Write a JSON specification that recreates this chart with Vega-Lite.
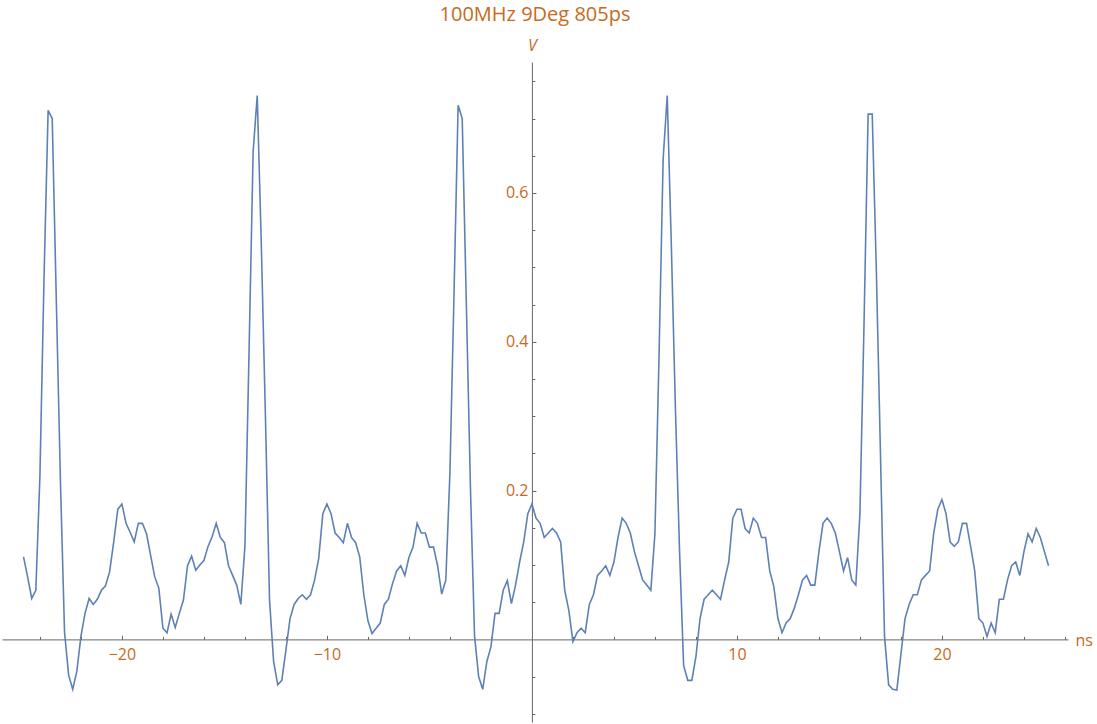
{
  "$schema": "https://vega.github.io/schema/vega-lite/v6.json",
  "width": 1066,
  "height": 660,
  "autosize": {"type": "none"},
  "padding": {"left": 2, "top": 62, "right": 29, "bottom": 2},
  "background": "#ffffff",
  "title": {
    "text": "100MHz 9Deg 805ps",
    "anchor": "middle",
    "font": "Open Sans",
    "fontSize": 20,
    "fontWeight": "normal",
    "color": "#c76a22",
    "offset": 12
  },
  "data": {
    "values": [
      {"t": -24.8, "v": 0.111}, {"t": -24.6, "v": 0.084}, {"t": -24.4, "v": 0.055}, {"t": -24.2, "v": 0.066},
      {"t": -24.0, "v": 0.22}, {"t": -23.8, "v": 0.486}, {"t": -23.6, "v": 0.711}, {"t": -23.4, "v": 0.7},
      {"t": -23.2, "v": 0.455}, {"t": -23.0, "v": 0.213}, {"t": -22.8, "v": 0.01}, {"t": -22.6, "v": -0.048},
      {"t": -22.4, "v": -0.067}, {"t": -22.2, "v": -0.043}, {"t": -22.0, "v": 0.004}, {"t": -21.8, "v": 0.035},
      {"t": -21.6, "v": 0.055}, {"t": -21.4, "v": 0.047}, {"t": -21.2, "v": 0.054}, {"t": -21.0, "v": 0.066},
      {"t": -20.8, "v": 0.072}, {"t": -20.6, "v": 0.091}, {"t": -20.4, "v": 0.131}, {"t": -20.2, "v": 0.175},
      {"t": -20.0, "v": 0.182}, {"t": -19.8, "v": 0.156}, {"t": -19.6, "v": 0.144}, {"t": -19.4, "v": 0.131},
      {"t": -19.2, "v": 0.156}, {"t": -19.0, "v": 0.156}, {"t": -18.8, "v": 0.142}, {"t": -18.6, "v": 0.113},
      {"t": -18.4, "v": 0.084}, {"t": -18.2, "v": 0.069}, {"t": -18.0, "v": 0.015}, {"t": -17.8, "v": 0.009},
      {"t": -17.6, "v": 0.034}, {"t": -17.4, "v": 0.016}, {"t": -17.2, "v": 0.035}, {"t": -17.0, "v": 0.053},
      {"t": -16.8, "v": 0.099}, {"t": -16.6, "v": 0.112}, {"t": -16.4, "v": 0.093}, {"t": -16.2, "v": 0.1},
      {"t": -16.0, "v": 0.106}, {"t": -15.8, "v": 0.125}, {"t": -15.6, "v": 0.138}, {"t": -15.4, "v": 0.156},
      {"t": -15.2, "v": 0.137}, {"t": -15.0, "v": 0.13}, {"t": -14.8, "v": 0.099}, {"t": -14.6, "v": 0.086},
      {"t": -14.4, "v": 0.073}, {"t": -14.2, "v": 0.047}, {"t": -14.0, "v": 0.125}, {"t": -13.8, "v": 0.385},
      {"t": -13.6, "v": 0.655}, {"t": -13.4, "v": 0.731}, {"t": -13.2, "v": 0.53}, {"t": -13.0, "v": 0.3},
      {"t": -12.8, "v": 0.053}, {"t": -12.6, "v": -0.03}, {"t": -12.4, "v": -0.061}, {"t": -12.2, "v": -0.055},
      {"t": -12.0, "v": -0.014}, {"t": -11.8, "v": 0.028}, {"t": -11.6, "v": 0.047}, {"t": -11.4, "v": 0.055},
      {"t": -11.2, "v": 0.06}, {"t": -11.0, "v": 0.054}, {"t": -10.8, "v": 0.06}, {"t": -10.6, "v": 0.08},
      {"t": -10.4, "v": 0.109}, {"t": -10.2, "v": 0.169}, {"t": -10.0, "v": 0.182}, {"t": -9.8, "v": 0.169},
      {"t": -9.6, "v": 0.143}, {"t": -9.4, "v": 0.137}, {"t": -9.2, "v": 0.13}, {"t": -9.0, "v": 0.156},
      {"t": -8.8, "v": 0.137}, {"t": -8.6, "v": 0.13}, {"t": -8.4, "v": 0.111}, {"t": -8.2, "v": 0.06},
      {"t": -8.0, "v": 0.025}, {"t": -7.8, "v": 0.008}, {"t": -7.6, "v": 0.015}, {"t": -7.4, "v": 0.022},
      {"t": -7.2, "v": 0.047}, {"t": -7.0, "v": 0.054}, {"t": -6.8, "v": 0.075}, {"t": -6.6, "v": 0.092},
      {"t": -6.4, "v": 0.099}, {"t": -6.2, "v": 0.086}, {"t": -6.0, "v": 0.11}, {"t": -5.8, "v": 0.124},
      {"t": -5.6, "v": 0.156}, {"t": -5.4, "v": 0.143}, {"t": -5.2, "v": 0.143}, {"t": -5.0, "v": 0.124},
      {"t": -4.8, "v": 0.124}, {"t": -4.6, "v": 0.099}, {"t": -4.4, "v": 0.061}, {"t": -4.2, "v": 0.08},
      {"t": -4.0, "v": 0.224}, {"t": -3.8, "v": 0.465}, {"t": -3.6, "v": 0.718}, {"t": -3.4, "v": 0.7},
      {"t": -3.2, "v": 0.452}, {"t": -3.0, "v": 0.205}, {"t": -2.8, "v": 0.005}, {"t": -2.6, "v": -0.05},
      {"t": -2.4, "v": -0.067}, {"t": -2.2, "v": -0.03}, {"t": -2.0, "v": -0.01}, {"t": -1.8, "v": 0.035},
      {"t": -1.6, "v": 0.035}, {"t": -1.4, "v": 0.066}, {"t": -1.2, "v": 0.079}, {"t": -1.0, "v": 0.048},
      {"t": -0.8, "v": 0.073}, {"t": -0.6, "v": 0.104}, {"t": -0.4, "v": 0.131}, {"t": -0.2, "v": 0.169},
      {"t": 0.0, "v": 0.182}, {"t": 0.2, "v": 0.163}, {"t": 0.4, "v": 0.156}, {"t": 0.6, "v": 0.137},
      {"t": 0.8, "v": 0.143}, {"t": 1.0, "v": 0.149}, {"t": 1.2, "v": 0.143}, {"t": 1.4, "v": 0.131},
      {"t": 1.6, "v": 0.066}, {"t": 1.8, "v": 0.039}, {"t": 2.0, "v": -0.003}, {"t": 2.2, "v": 0.009},
      {"t": 2.4, "v": 0.015}, {"t": 2.6, "v": 0.009}, {"t": 2.8, "v": 0.047}, {"t": 3.0, "v": 0.06},
      {"t": 3.2, "v": 0.086}, {"t": 3.4, "v": 0.092}, {"t": 3.6, "v": 0.099}, {"t": 3.8, "v": 0.086},
      {"t": 4.0, "v": 0.104}, {"t": 4.2, "v": 0.137}, {"t": 4.4, "v": 0.163}, {"t": 4.6, "v": 0.156},
      {"t": 4.8, "v": 0.143}, {"t": 5.0, "v": 0.118}, {"t": 5.2, "v": 0.099}, {"t": 5.4, "v": 0.08},
      {"t": 5.6, "v": 0.073}, {"t": 5.8, "v": 0.066}, {"t": 6.0, "v": 0.142}, {"t": 6.2, "v": 0.38},
      {"t": 6.4, "v": 0.645}, {"t": 6.6, "v": 0.731}, {"t": 6.8, "v": 0.53}, {"t": 7.0, "v": 0.31},
      {"t": 7.2, "v": 0.12}, {"t": 7.4, "v": -0.035}, {"t": 7.6, "v": -0.055}, {"t": 7.8, "v": -0.055},
      {"t": 8.0, "v": -0.023}, {"t": 8.2, "v": 0.028}, {"t": 8.4, "v": 0.054}, {"t": 8.6, "v": 0.06},
      {"t": 8.8, "v": 0.066}, {"t": 9.0, "v": 0.06}, {"t": 9.2, "v": 0.054}, {"t": 9.4, "v": 0.08},
      {"t": 9.6, "v": 0.104}, {"t": 9.8, "v": 0.163}, {"t": 10.0, "v": 0.175}, {"t": 10.2, "v": 0.175},
      {"t": 10.4, "v": 0.149}, {"t": 10.6, "v": 0.143}, {"t": 10.8, "v": 0.163}, {"t": 11.0, "v": 0.156},
      {"t": 11.2, "v": 0.137}, {"t": 11.4, "v": 0.137}, {"t": 11.6, "v": 0.092}, {"t": 11.8, "v": 0.071},
      {"t": 12.0, "v": 0.028}, {"t": 12.2, "v": 0.009}, {"t": 12.4, "v": 0.022}, {"t": 12.6, "v": 0.028},
      {"t": 12.8, "v": 0.042}, {"t": 13.0, "v": 0.06}, {"t": 13.2, "v": 0.08}, {"t": 13.4, "v": 0.086},
      {"t": 13.6, "v": 0.073}, {"t": 13.8, "v": 0.073}, {"t": 14.0, "v": 0.118}, {"t": 14.2, "v": 0.156},
      {"t": 14.4, "v": 0.163}, {"t": 14.6, "v": 0.156}, {"t": 14.8, "v": 0.143}, {"t": 15.0, "v": 0.118},
      {"t": 15.2, "v": 0.092}, {"t": 15.4, "v": 0.11}, {"t": 15.6, "v": 0.08}, {"t": 15.8, "v": 0.073},
      {"t": 16.0, "v": 0.169}, {"t": 16.2, "v": 0.424}, {"t": 16.4, "v": 0.706}, {"t": 16.6, "v": 0.706},
      {"t": 16.8, "v": 0.497}, {"t": 17.0, "v": 0.252}, {"t": 17.2, "v": 0.004}, {"t": 17.4, "v": -0.061},
      {"t": 17.6, "v": -0.067}, {"t": 17.8, "v": -0.068}, {"t": 18.0, "v": -0.02}, {"t": 18.2, "v": 0.028},
      {"t": 18.4, "v": 0.047}, {"t": 18.6, "v": 0.06}, {"t": 18.8, "v": 0.06}, {"t": 19.0, "v": 0.08},
      {"t": 19.2, "v": 0.086}, {"t": 19.4, "v": 0.092}, {"t": 19.6, "v": 0.143}, {"t": 19.8, "v": 0.175},
      {"t": 20.0, "v": 0.188}, {"t": 20.2, "v": 0.169}, {"t": 20.4, "v": 0.131}, {"t": 20.6, "v": 0.125},
      {"t": 20.8, "v": 0.131}, {"t": 21.0, "v": 0.156}, {"t": 21.2, "v": 0.156}, {"t": 21.4, "v": 0.125},
      {"t": 21.6, "v": 0.092}, {"t": 21.8, "v": 0.028}, {"t": 22.0, "v": 0.022}, {"t": 22.2, "v": 0.004},
      {"t": 22.4, "v": 0.022}, {"t": 22.6, "v": 0.009}, {"t": 22.8, "v": 0.054}, {"t": 23.0, "v": 0.054},
      {"t": 23.2, "v": 0.08}, {"t": 23.4, "v": 0.099}, {"t": 23.6, "v": 0.104}, {"t": 23.8, "v": 0.086},
      {"t": 24.0, "v": 0.118}, {"t": 24.2, "v": 0.142}, {"t": 24.4, "v": 0.131}, {"t": 24.6, "v": 0.149},
      {"t": 24.8, "v": 0.137}, {"t": 25.0, "v": 0.118}, {"t": 25.2, "v": 0.099}
    ]
  },
  "layer": [
    {
      "mark": {"type": "line", "opacity": 0},
      "encoding": {
        "x": {
          "field": "t", "type": "quantitative",
          "scale": {"domain": [-25.85, 26.15], "nice": false, "zero": false},
          "axis": {
            "orient": "bottom", "offset": -82.6, "title": null, "labels": false, "domain": false, "grid": false,
            "values": [-24, -22, -18, -16, -14, -12, -8, -6, -4, -2, 2, 4, 6, 8, 12, 14, 16, 18, 22, 24, 26],
            "tickSize": -3, "tickColor": "#666666", "tickWidth": 1
          }
        },
        "y": {
          "field": "v", "type": "quantitative",
          "scale": {"domain": [-0.111, 0.776], "nice": false, "zero": false},
          "axis": {
            "orient": "left", "offset": -529.9, "title": null, "labels": false, "domain": false, "grid": false,
            "values": [-0.1, -0.05, 0.05, 0.1, 0.15, 0.25, 0.3, 0.35, 0.45, 0.5, 0.55, 0.65, 0.7, 0.75],
            "tickSize": -3, "tickColor": "#666666", "tickWidth": 1
          }
        }
      }
    },
    {
      "mark": {"type": "line", "stroke": "#5e81b5", "strokeWidth": 1.6, "strokeJoin": "miter"},
      "encoding": {
        "x": {
          "field": "t", "type": "quantitative",
          "axis": {
            "orient": "bottom", "offset": -82.6, "grid": false,
            "values": [-20, -10, 10, 20], "format": "d",
            "tickSize": -4, "tickColor": "#666666", "tickWidth": 1,
            "domainColor": "#666666", "domainWidth": 1,
            "labelPadding": 11, "labelFont": "Open Sans", "labelFontSize": 16, "labelColor": "#c76a22",
            "title": "ns", "titleX": 1073, "titleY": 5.6, "titleAlign": "left", "titleBaseline": "alphabetic",
            "titleAngle": 0, "titleFont": "Open Sans", "titleFontSize": 16, "titleFontWeight": "normal",
            "titleColor": "#c76a22"
          }
        },
        "y": {
          "field": "v", "type": "quantitative",
          "axis": {
            "orient": "left", "offset": -529.9, "grid": false,
            "values": [0.2, 0.4, 0.6], "format": ".1f",
            "tickSize": -4, "tickColor": "#666666", "tickWidth": 1,
            "domainColor": "#666666", "domainWidth": 1,
            "labelPadding": 8, "labelFont": "Open Sans", "labelFontSize": 16, "labelColor": "#c76a22",
            "title": "V", "titleX": 0, "titleY": -12, "titleAlign": "center", "titleBaseline": "alphabetic",
            "titleAngle": 0, "titleFont": "Open Sans", "titleFontSize": 16, "titleFontWeight": "normal",
            "titleFontStyle": "italic", "titleColor": "#c76a22"
          }
        }
      }
    }
  ],
  "resolve": {"axis": {"x": "independent", "y": "independent"}},
  "config": {"view": {"stroke": null}}
}
